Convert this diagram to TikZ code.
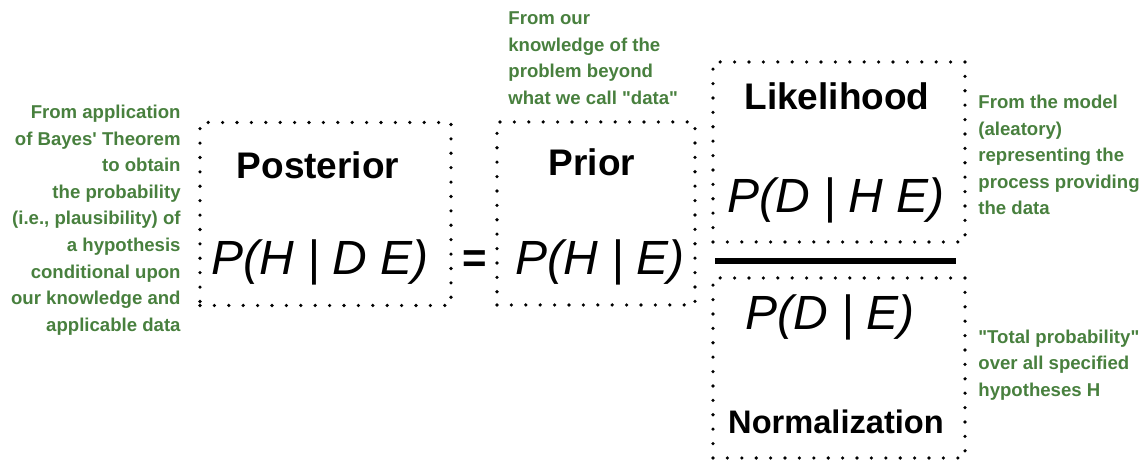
\documentclass[tikz,border=0pt]{standalone}
\usepackage{fontspec}
\setmainfont{Liberation Sans}[Ligatures=TeXOff]
\usepackage{xcolor}
\definecolor{notegreen}{RGB}{72,128,62}
\tikzset{
  dotbox/.style={draw, line width=1.8pt, line cap=round,
    dash pattern=on 0pt off 7.2pt, inner sep=0pt},
  title/.style={font=\bfseries\fontsize{18.5}{22}\selectfont, inner sep=0pt},
  formula/.style={font=\itshape\fontsize{24}{28}\selectfont, inner sep=0pt},
  note/.style={text=notegreen, inner sep=0pt,
    font=\bfseries\fontsize{9.3}{13.3}\selectfont}
}

\begin{document}
\begin{tikzpicture}[x=0.5pt,y=-0.5pt]
  \useasboundingbox (0,0) rectangle (1148,464);

  % ---- Posterior ----
  \node[dotbox, minimum width=125.5pt, minimum height=91.5pt] (postbox) at (325.5,214) {};
  \node[title] (posttitle) at (318,165) {Posterior};
  \node[formula] (postP) at (320,262) {P(H | D E)};
  \node[note, align=right, anchor=east] (postnote) at (181,220)
    {From application\\of Bayes' Theorem\\to obtain\\the probability\\(i.e., plausibility) of\\a hypothesis\\conditional upon\\our knowledge and\\applicable data};

  % ---- equals ----
  \node[font=\bfseries\fontsize{21}{24}\selectfont, inner sep=0pt] (eq) at (475,262) {=};

  % ---- Prior ----
  \node[dotbox, minimum width=99pt, minimum height=91.5pt] (priorbox) at (596,213.5) {};
  \node[title] (priortitle) at (592,162) {Prior};
  \node[formula] (priorP) at (600,262) {P(H | E)};
  \node[note, align=left, anchor=west] (priornote) at (508,58)
    {From our\\knowledge of the\\problem beyond\\what we call "data"};

  % ---- Likelihood ----
  \node[dotbox, minimum width=126pt, minimum height=90pt] (likbox) at (839,152) {};
  \node[title] (liktitle) at (837,96) {Likelihood};
  \node[formula] (likP) at (836,200) {P(D | H E)};
  \node[note, align=left, anchor=west] (liknote) at (978,155)
    {From the model\\(aleatory)\\representing the\\process providing\\the data};

  % ---- fraction bar ----
  \coordinate (barL) at (715,261);
  \coordinate (barR) at (956,261);
  \draw[line width=3pt] (barL) -- (barR);

  % ---- Normalization ----
  \node[dotbox, minimum width=126pt, minimum height=90pt] (normbox) at (839,368) {};
  \node[formula] (normP) at (830,317) {P(D | E)};
  \node[title, font=\bfseries\fontsize{16.3}{20}\selectfont] (normtitle) at (836,422) {Normalization};
  \node[note, align=left, anchor=west] (normnote) at (978,365)
    {"Total probability"\\over all specified\\hypotheses H};
\end{tikzpicture}
\end{document}
